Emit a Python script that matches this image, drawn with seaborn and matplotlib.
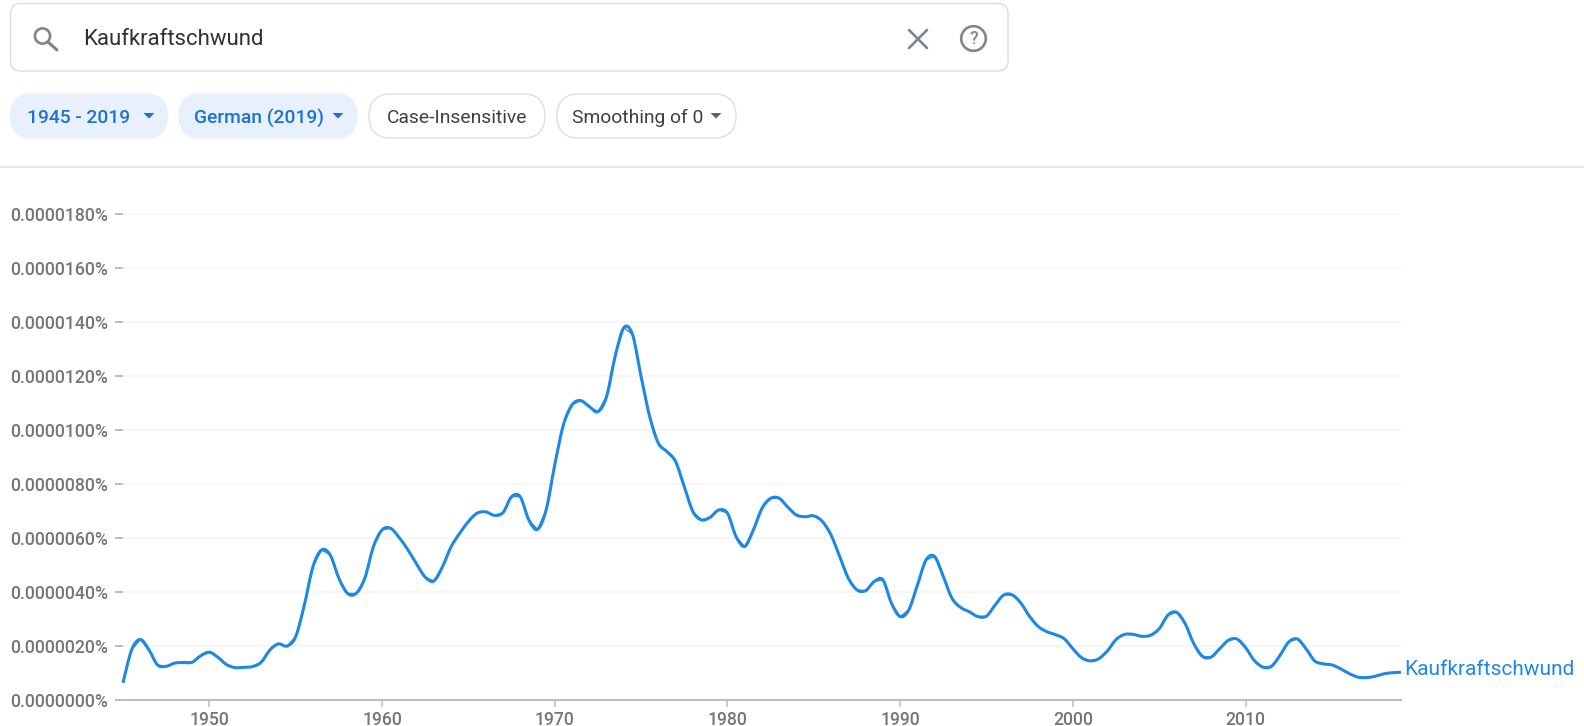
import numpy as np
import pandas as pd
import matplotlib
matplotlib.use("Agg")
import matplotlib.pyplot as plt
from matplotlib.patches import FancyBboxPatch, Circle, Polygon, PathPatch
from matplotlib.path import Path
import seaborn as sns

# Values in units of 0.000001 %, read every half year from the picture
v_1945 = [0.65, 1.87, 2.25, 1.87, 1.31, 1.26, 1.38, 1.40, 1.41, 1.65]
v_1950 = [1.78, 1.59, 1.32, 1.21, 1.22, 1.25, 1.41, 1.86, 2.09, 2.01]
v_1955 = [2.36, 3.53, 4.95, 5.57, 5.38, 4.52, 3.96, 3.96, 4.52, 5.69]
v_1960 = [6.31, 6.37, 6.02, 5.57, 5.05, 4.56, 4.42, 4.95, 5.69, 6.19]
v_1965 = [6.62, 6.93, 6.98, 6.85, 6.95, 7.54, 7.54, 6.68, 6.33, 7.05]
v_1970 = [8.72, 10.2, 10.94, 11.1, 10.88, 10.69, 11.25, 12.75, 13.8, 13.55]
v_1975 = [11.99, 10.5, 9.52, 9.21, 8.84, 7.91, 6.99, 6.68, 6.78, 7.05]
v_1980 = [6.93, 6.06, 5.70, 6.31, 7.11, 7.48, 7.48, 7.15, 6.86, 6.80]
v_1985 = [6.83, 6.62, 6.12, 5.32, 4.52, 4.09, 4.06, 4.40, 4.46, 3.59]
v_1990 = [3.10, 3.35, 4.27, 5.20, 5.32, 4.58, 3.78, 3.44, 3.28, 3.10]
v_1995 = [3.12, 3.53, 3.90, 3.90, 3.59, 3.10, 2.73, 2.54, 2.43, 2.28]
v_2000 = [1.91, 1.58, 1.46, 1.54, 1.83, 2.25, 2.44, 2.44, 2.37, 2.41]
v_2005 = [2.65, 3.15, 3.26, 2.84, 2.10, 1.63, 1.60, 1.91, 2.22, 2.27]
v_2010 = [1.95, 1.48, 1.23, 1.26, 1.67, 2.16, 2.27, 1.91, 1.46, 1.35]
v_2015 = [1.31, 1.17, 0.99, 0.86, 0.84, 0.89, 0.98, 1.02, 1.04]
values = (v_1945 + v_1950 + v_1955 + v_1960 + v_1965 + v_1970 + v_1975 + v_1980
          + v_1985 + v_1990 + v_1995 + v_2000 + v_2005 + v_2010 + v_2015)
years = [1945 + i / 2 for i in range(len(values))]

y_ticks = [0, 2, 4, 6, 8, 10, 12, 14, 16, 18]
y_labels = ["0.0000000%", "0.0000020%", "0.0000040%", "0.0000060%", "0.0000080%",
            "0.0000100%", "0.0000120%", "0.0000140%", "0.0000160%", "0.0000180%"]
x_ticks = [1950, 1960, 1970, 1980, 1990, 2000, 2010]
term = "Kaufkraftschwund"
chips = ["1945 - 2019", "German (2019)", "Case-Insensitive", "Smoothing of 0"]

BLUE = "#1e88e5"
GREY = "#757575"
W, H = 1584, 726
sns.set_theme(style="white")
plt.rcParams["font.family"] = ["Roboto", "DejaVu Sans"]

fig = plt.figure(figsize=(W / 100, H / 100), dpi=100, facecolor="white")

# Chart
L, R, T, B = 123, 1401, 214.3, 700.3
ax = fig.add_axes([L / W, 1 - B / H, (R - L) / W, (B - T) / H])
df = pd.DataFrame({"year": years, "value": values})
ax.set_xlim(1945, 2019)
ax.set_ylim(0, 18)
ax.set_yticks(y_ticks)
ax.set_yticklabels(y_labels)
ax.set_xticks(x_ticks)
ax.set_xticklabels([str(x) for x in x_ticks])
for y in y_ticks[1:]:
    ax.axhline(y, color="#f4f4f4", lw=1.1, zorder=0)
sns.lineplot(data=df, x="year", y="value", ax=ax, color=BLUE, lw=0.9,
             solid_joinstyle="round", solid_capstyle="butt", clip_on=False, zorder=3)

# The reference strokes its line as a smooth curve through the same points:
# stroke the seaborn line's vertices with Bezier segments on top of it.
pts = ax.lines[-1].get_xydata()
verts, codes = [pts[0]], [Path.MOVETO]
for i in range(len(pts) - 1):
    prev_pt = pts[max(i - 1, 0)]
    next_pt = pts[min(i + 2, len(pts) - 1)]
    verts += [pts[i] + (pts[i + 1] - prev_pt) / 6, pts[i + 1] - (next_pt - pts[i]) / 6, pts[i + 1]]
    codes += [Path.CURVE4] * 3
ax.add_patch(PathPatch(Path(verts, codes), fc="none", ec=BLUE, lw=2.2, capstyle="butt",
                       joinstyle="round", clip_on=False, zorder=4))

ax.set_xlabel("")
ax.set_ylabel("")
for s in ["top", "right", "left"]:
    ax.spines[s].set_visible(False)
ax.spines["bottom"].set_color("#bdbdbd")
ax.spines["bottom"].set_linewidth(1.5)
ax.tick_params(axis="y", left=True, length=6, width=1.1, color="#ababab", pad=4.5,
               labelsize=12.7, labelcolor=GREY)
ax.tick_params(axis="x", bottom=True, length=5, width=1.1, color="#bdbdbd", pad=2.5,
               labelsize=12.7, labelcolor=GREY)
for lab in ax.get_xticklabels() + ax.get_yticklabels():
    lab.set_fontweight("medium")
ax.annotate(term, xy=(2019, values[-1]), xytext=(2, 2), textcoords="offset points",
            color=BLUE, fontsize=15, va="center", ha="left", annotation_clip=False)

# Page furniture, in pixel coordinates
ui = fig.add_axes([0, 0, 1, 1], zorder=-1)
ui.set_xlim(0, W)
ui.set_ylim(H, 0)
ui.axis("off")

def box(x0, y0, x1, y1, r, fc, ec):
    ui.add_patch(FancyBboxPatch((x0 + r, y0 + r), x1 - x0 - 2 * r, y1 - y0 - 2 * r,
                                boxstyle=f"round,pad={r},rounding_size={r}",
                                fc=fc, ec=ec, lw=1.0, mutation_aspect=1))

def caret(cx, cy, color):
    ui.add_patch(Polygon([(cx - 5.5, cy - 2.5), (cx + 5.5, cy - 2.5), (cx, cy + 3)],
                         closed=True, fc=color, ec="none"))

box(10.5, 3.5, 1008, 71, 10, "white", "#dcdcdc")
ui.text(83, 39.5, term, fontsize=15.9, color="#303134", va="center", ha="left")

# search, clear and help icons
ICON = "#80868b"
ui.add_patch(Circle((42.5, 36), 7.6, fc="none", ec=ICON, lw=1.9))
ui.plot([48, 57], [42, 50], color=ICON, lw=2.2, solid_capstyle="round")
ui.plot([909, 927], [30, 48], color=ICON, lw=1.9)
ui.plot([909, 927], [48, 30], color=ICON, lw=1.9)
ui.add_patch(Circle((973.5, 38.5), 12.3, fc="none", ec=ICON, lw=1.9))
ui.text(973.5, 39.5, "?", fontsize=13, color=ICON, ha="center", va="center", fontweight="medium")

# filter chips
chip_spans = [(10.5, 167.5), (179, 357), (369, 545), (557, 736)]
text_x = [27, 194, 387, 572]
caret_x = [149, 338, None, 716]
for i, label in enumerate(chips):
    x0, x1 = chip_spans[i]
    active = i < 2
    box(x0, 94, x1, 138, 22, "#e8f0fe" if active else "white", "#e8f0fe" if active else "#dedede")
    color = "#1a73d0" if active else "#3c4043"
    ui.text(text_x[i], 118, label, fontsize=13.9, color=color, va="center", ha="left",
            fontweight="medium" if active else "normal")
    if caret_x[i] is not None:
        caret(caret_x[i], 115.5, color if active else "#5f6368")

ui.plot([0, W], [166.5, 166.5], color="#dfdfdf", lw=1.1)

fig.savefig("out.png", dpi=100)
